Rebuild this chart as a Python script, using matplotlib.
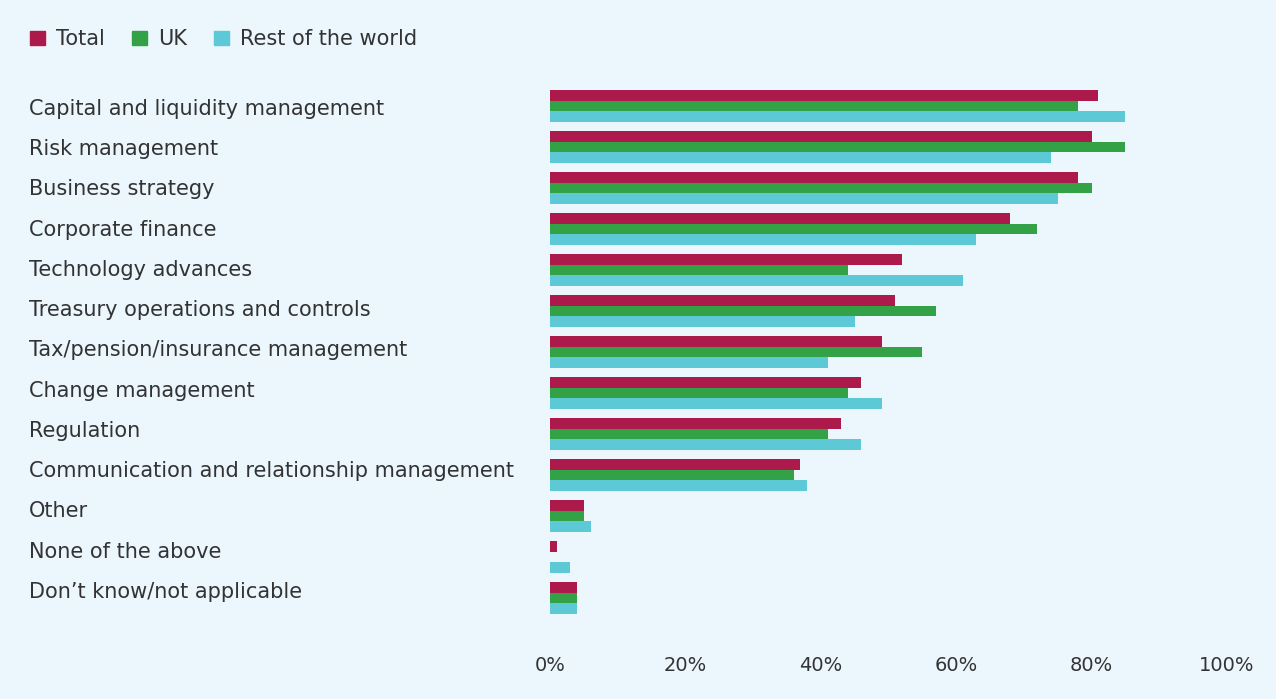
import matplotlib.pyplot as plt
import numpy as np
from matplotlib.patches import Patch
from matplotlib.transforms import blended_transform_factory

# Data (percent of respondents)
categories = [
    'Capital and liquidity management',
    'Risk management',
    'Business strategy',
    'Corporate finance',
    'Technology advances',
    'Treasury operations and controls',
    'Tax/pension/insurance management',
    'Change management',
    'Regulation',
    'Communication and relationship management',
    'Other',
    'None of the above',
    'Don\u2019t know/not applicable',
]
total = [81, 80, 78, 68, 52, 51, 49, 46, 43, 37, 5, 1, 4]
uk = [78, 85, 80, 72, 44, 57, 55, 44, 41, 36, 5, 0, 4]
rest_of_world = [85, 74, 75, 63, 61, 45, 41, 49, 46, 38, 6, 3, 4]
x_ticks = [0, 20, 40, 60, 80, 100]

bg = '#EBF6FD'
text_col = '#333333'
colors = {'Total': '#AB1A4A', 'UK': '#33A146', 'Rest of the world': '#5DC9D7'}

plt.rcParams['font.family'] = ['DejaVu Sans']
fs = 15

fig = plt.figure(figsize=(12.76, 6.99), dpi=100, facecolor=bg)
ax = fig.add_axes([0.431, 0.1152, 0.5306, 0.7625])
ax.set_facecolor(bg)

y = np.arange(len(categories))
h = 0.26
ax.barh(y - h, total, h, color=colors['Total'])
ax.barh(y, uk, h, color=colors['UK'])
ax.barh(y + h, rest_of_world, h, color=colors['Rest of the world'])

ax.set_xlim(0, 100)
ax.set_ylim(len(categories) - 0.5, -0.5)
ax.set_xticks(x_ticks)
ax.set_xticklabels([f'{t}%' for t in x_ticks], fontsize=14, color=text_col)
ax.tick_params(axis='x', length=0, pad=27)
ax.set_yticks([])
for s in ax.spines.values():
    s.set_visible(False)

# category labels, left aligned near the figure edge (label rows are a bit tighter than bars)
trans = blended_transform_factory(fig.transFigure, ax.transData)
n = len(categories)
for yi, name in zip(y, categories):
    ax.text(0.0225, yi + 0.07 - 0.22 * yi / (n - 1), name, transform=trans,
            ha='left', va='center', fontsize=fs, color=text_col)

handles = [Patch(color=c, label=k) for k, c in colors.items()]
fig.legend(handles=handles, loc='upper left', bbox_to_anchor=(0.009, 0.985),
           ncol=3, frameon=False, fontsize=fs, handlelength=0.7, handleheight=0.7,
           handletextpad=0.55, columnspacing=1.3, labelcolor=text_col)

fig.savefig('out.png', dpi=100, facecolor=bg)
